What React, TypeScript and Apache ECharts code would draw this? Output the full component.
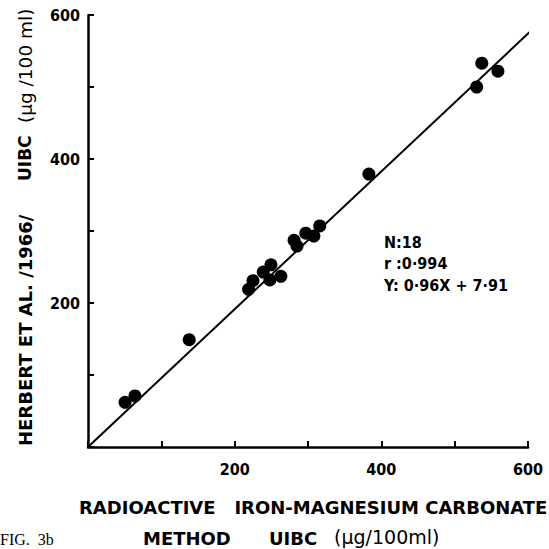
import React, { useEffect, useRef } from "react";
import * as echarts from "echarts";

const xValues = [50.5, 64, 138, 219, 225, 239, 249.5, 248, 263, 281, 285, 297, 308, 316, 383, 530, 537, 559];
const yValues = [62, 71, 149, 219, 231, 243, 253, 232, 237, 287, 279, 297, 293, 307, 379, 500, 533, 522];
const fitLineX = [0, 604];
const fitLineY = [0, 578];
const axisTicks = [0, 100, 200, 300, 400, 500, 600];
const labelledTicks = [200, 400, 600];
const statLines = ["N:18", "r :0·994", "Y: 0·96X + 7·91"];

const condensed = "'DejaVu Sans Condensed', 'Liberation Sans Narrow', 'DejaVu Sans', sans-serif";
const wide = "'DejaVu Sans', 'Verdana', sans-serif";

export default function App() {
  const ref = useRef<HTMLDivElement>(null);
  useEffect(() => {
    if (!ref.current) return;
    const chart = echarts.init(ref.current, undefined, { renderer: "svg" });
    const points = xValues.map((x, i) => [x, yValues[i]]);
    const line = fitLineX.map((x, i) => [x, fitLineY[i]]);
    const axisCommon = {
      type: "value" as const,
      min: axisTicks[0],
      max: axisTicks[axisTicks.length - 1],
      interval: axisTicks[1] - axisTicks[0],
      splitLine: { show: false },
      axisLine: { show: true, onZero: false, lineStyle: { color: "#000", width: 2.5 } },
      axisTick: { show: true, inside: true, length: 6, lineStyle: { color: "#000", width: 2 } },
    };
    chart.setOption({
      animation: false,
      backgroundColor: "#fff",
      grid: { left: 88, top: 15, width: 440, height: 432, containLabel: false },
      xAxis: {
        ...axisCommon,
        axisLabel: {
          margin: 14,
          color: "#000",
          fontFamily: condensed,
          fontWeight: "bold",
          fontSize: 16,
          formatter: (v: number) => (labelledTicks.includes(v) ? String(v) : ""),
        },
      },
      yAxis: {
        ...axisCommon,
        axisLabel: {
          margin: 8,
          color: "#000",
          fontFamily: condensed,
          fontWeight: "bold",
          fontSize: 16,
          formatter: (v: number) => (labelledTicks.includes(v) ? String(v) : ""),
        },
      },
      series: [
        {
          type: "line",
          data: line,
          showSymbol: false,
          symbol: "none",
          lineStyle: { color: "#000", width: 2 },
          z: 2,
        },
        {
          type: "scatter",
          data: points,
          symbol: "circle",
          symbolSize: 13,
          itemStyle: { color: "#000", opacity: 1 },
          z: 3,
        },
      ],
      graphic: [
        {
          type: "text",
          x: 25,
          y: 446,
          rotation: Math.PI / 2,
          style: {
            text: "HERBERT ET AL. /1966/",
            fill: "#000",
            font: `bold 18px ${wide}`,
            align: "left",
            verticalAlign: "middle",
          },
        },
        {
          type: "text",
          x: 25,
          y: 181,
          rotation: Math.PI / 2,
          style: {
            text: "UIBC",
            fill: "#000",
            font: `bold 17px ${wide}`,
            align: "left",
            verticalAlign: "middle",
          },
        },
        {
          type: "text",
          x: 25,
          y: 123,
          rotation: Math.PI / 2,
          style: {
            text: "(µg /100 ml)",
            fill: "#000",
            font: `18.5px ${wide}`,
            align: "left",
            verticalAlign: "middle",
          },
        },
        {
          type: "text",
          x: 79,
          y: 507,
          style: {
            text: "RADIOACTIVE   IRON-MAGNESIUM CARBONATE",
            fill: "#000",
            font: `bold 18px ${wide}`,
            align: "left",
            verticalAlign: "middle",
          },
        },
        {
          type: "text",
          x: 143,
          y: 538,
          style: {
            text: "METHOD",
            fill: "#000",
            font: `bold 18px ${wide}`,
            align: "left",
            verticalAlign: "middle",
          },
        },
        {
          type: "text",
          x: 269,
          y: 538,
          style: {
            text: "UIBC",
            fill: "#000",
            font: `bold 18px ${wide}`,
            align: "left",
            verticalAlign: "middle",
          },
        },
        {
          type: "text",
          x: 334,
          y: 537,
          style: {
            text: "(µg/100ml)",
            fill: "#000",
            font: `19px ${wide}`,
            align: "left",
            verticalAlign: "middle",
          },
        },
        {
          type: "text",
          x: 0,
          y: 539,
          style: {
            text: "FIG.  3b",
            fill: "#000",
            font: `16px 'Liberation Serif', serif`,
            align: "left",
            verticalAlign: "middle",
          },
        },
        ...statLines.map((t, i) => ({
          type: "text",
          x: 384,
          y: 242 + i * 21.5,
          style: {
            text: t,
            fill: "#000",
            font: `bold 16px ${condensed}`,
            align: "left",
            verticalAlign: "middle",
          },
        })),
      ],
    });
    return () => chart.dispose();
  }, []);
  return (
    <div
      ref={ref}
      style={{ position: "fixed", left: 0, top: 0, width: 549, height: 549 }}
    />
  );
}
